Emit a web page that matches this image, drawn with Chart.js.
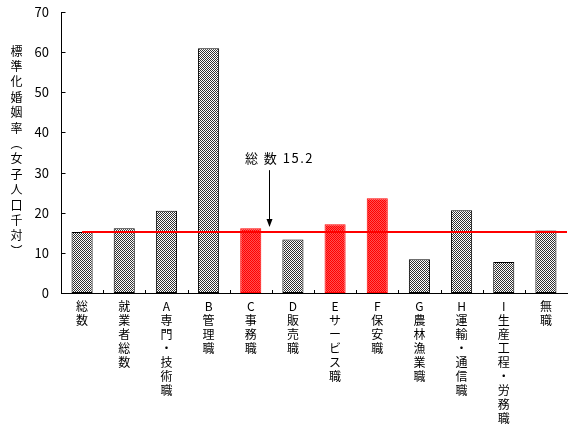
<!DOCTYPE html>
<html><head><meta charset="utf-8">
<script src="https://cdn.jsdelivr.net/npm/chart.js@4/dist/chart.umd.min.js"></script>
<style>
html,body{margin:0;padding:0;background:#fff;}
#wrap{position:relative;width:570px;height:430px;}
#ylab{position:absolute;left:9px;top:45px;writing-mode:vertical-rl;text-orientation:upright;font:12px "Noto Sans CJK JP";letter-spacing:3.4px;color:#000;line-height:14px;}
</style></head>
<body>
<div id="wrap"><canvas id="c" width="570" height="430"></canvas><div id="ylab">標準化婚姻率（女子人口千対）</div></div>
<script>
const categories = ['総数','就業者総数','A専門・技術職','B管理職','C事務職','D販売職','Eサービス職','F保安職','G農林漁業職','H運輸・通信職','I生産工程・労務職','無職'];
const values = [15.2, 16.1, 20.5, 61.0, 16.1, 13.3, 17.1, 23.6, 8.4, 20.6, 7.7, 15.6];
const highlighted = ['C事務職','Eサービス職','F保安職'];
const average = 15.2;
const averageLabel = '総 数 ' + average.toFixed(1);
const yMin = 0, yMax = 70, yStep = 10;

const canvas = document.getElementById('c');
const ctx = canvas.getContext('2d');
function checker(c1, c2){
  const cv = document.createElement('canvas'); cv.width = 2; cv.height = 2;
  const g = cv.getContext('2d');
  g.fillStyle = c2; g.fillRect(0,0,2,2);
  g.fillStyle = c1; g.fillRect(0,0,1,1); g.fillRect(1,1,1,1);
  return ctx.createPattern(cv, 'repeat');
}
const grayPat = checker('#303030', '#ffffff');
const redPat = checker('#ff0000', '#ff5050');
const isHi = categories.map(c => highlighted.includes(c));

const FONT = {family: '"Noto Sans CJK JP", "DejaVu Sans", sans-serif', size: 12, lineHeight: 14/12};

const decor = {
  id: 'decor',
  afterDatasetsDraw(chart){
    const {ctx, chartArea, scales:{x, y}} = chart;
    ctx.save();
    ctx.strokeStyle = '#000'; ctx.lineWidth = 1;
    const ax = Math.round(chartArea.left) + 0.5;
    for (let v = yMin; v <= yMax; v += yStep){
      const py = Math.round(y.getPixelForValue(v)) + 0.5;
      ctx.beginPath(); ctx.moveTo(ax, py); ctx.lineTo(ax + 4, py); ctx.stroke();
    }
    const by = Math.round(chartArea.bottom);
    for (let i = 1; i < categories.length; i++){
      const px = Math.round((x.getPixelForValue(i-1) + x.getPixelForValue(i)) / 2) + 0.5;
      ctx.beginPath(); ctx.moveTo(px, by); ctx.lineTo(px, by - 3); ctx.stroke();
    }
    const ly = y.getPixelForValue(average);
    ctx.strokeStyle = '#ff0000'; ctx.lineWidth = 2;
    ctx.beginPath(); ctx.moveTo(x.getPixelForValue(0), ly); ctx.lineTo(chartArea.right, ly); ctx.stroke();
    const step = x.getPixelForValue(1) - x.getPixelForValue(0);
    const axp = Math.round(x.getPixelForValue(4) + 0.43 * step) + 0.5;
    const top = y.getPixelForValue(30.6);
    const tip = ly - 6;
    ctx.strokeStyle = '#000'; ctx.lineWidth = 1;
    ctx.beginPath(); ctx.moveTo(axp, top); ctx.lineTo(axp, tip); ctx.stroke();
    ctx.fillStyle = '#000';
    ctx.beginPath(); ctx.moveTo(axp - 3, tip - 7); ctx.lineTo(axp + 3, tip - 7); ctx.lineTo(axp, tip + 1); ctx.closePath(); ctx.fill();
    ctx.font = '13px "Noto Sans CJK JP"';
    ctx.letterSpacing = '1.5px';
    ctx.textAlign = 'center'; ctx.textBaseline = 'middle';
    ctx.fillText(averageLabel, axp + 10, y.getPixelForValue(33.6));
    ctx.restore();
  }
};

new Chart(canvas, {
  type: 'bar',
  data: {
    labels: categories.map(s => [...s]),
    datasets: [{
      data: values,
      backgroundColor: isHi.map(h => h ? redPat : grayPat),
      borderColor: isHi.map(h => h ? '#ff0000' : '#000000'),
      borderWidth: 1,
      borderSkipped: false,
      barPercentage: 0.5,
      categoryPercentage: 1.0
    }]
  },
  options: {
    responsive: false,
    animation: false,
    devicePixelRatio: 1,
    layout: {padding: {left: 0, right: 3, top: 12, bottom: 0}},
    plugins: {legend: {display: false}, tooltip: {enabled: false}},
    scales: {
      x: {
        grid: {display: false, drawTicks: false},
        border: {display: true, color: '#000', width: 1},
        ticks: {color: '#000', font: FONT, maxRotation: 0, minRotation: 0, autoSkip: false, padding: 6},
        afterFit(s){ s.height = 137; }
      },
      y: {
        min: yMin, max: yMax,
        grid: {display: false, drawTicks: false},
        border: {display: true, color: '#000', width: 1},
        ticks: {stepSize: yStep, color: '#000', font: {family: '"Noto Sans CJK JP", sans-serif', size: 13}, padding: 12},
        afterFit(s){ s.width = 61; s.paddingTop = 0; s.paddingBottom = 0; }
      }
    }
  },
  plugins: [decor]
});
</script>
</body></html>
